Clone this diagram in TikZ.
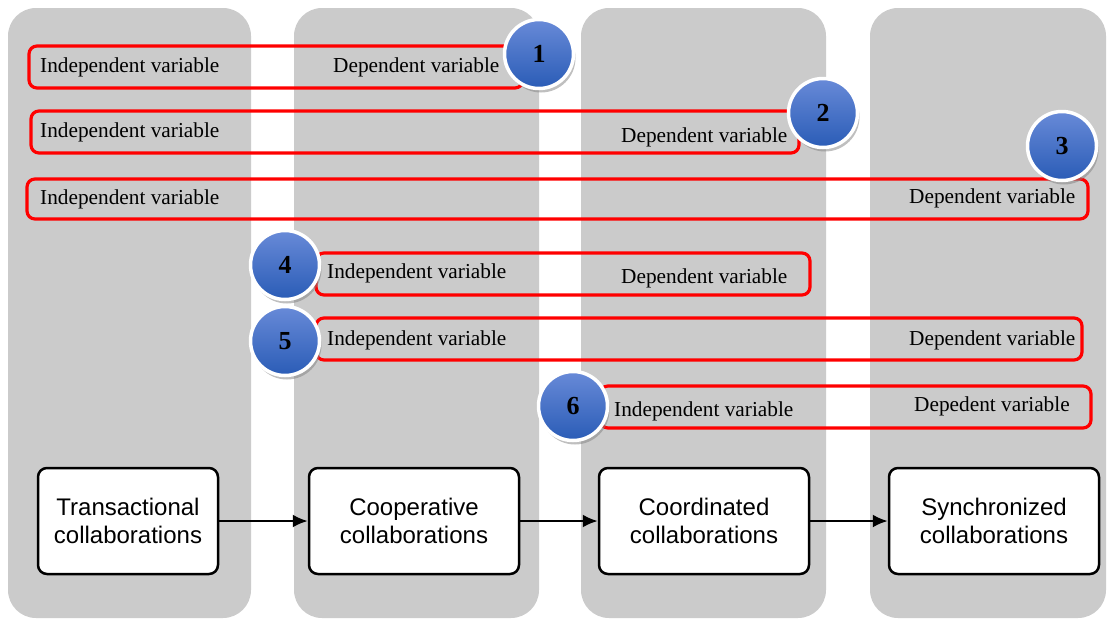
\documentclass[tikz,border=0pt]{standalone}
\usepackage{fontspec}
\setmainfont{Liberation Serif}
\newfontfamily\stagefont{Liberation Sans}
\usetikzlibrary{shadows,arrows.meta}
\definecolor{lanegray}{RGB}{203,203,203}
\definecolor{badgetop}{RGB}{104,138,216}
\definecolor{badgebot}{RGB}{42,92,182}
\begin{document}
\begin{tikzpicture}[x=1pt,y=-1pt,
  lane/.style={fill=lanegray, rounded corners=28pt},
  link/.style={draw=red, line width=3.2pt, rounded corners=8pt, inner sep=0pt},
  var/.style={font=\fontsize{21.3}{25}\selectfont, inner sep=0pt, anchor=west},
  badge/.style={circle, minimum size=69pt, inner sep=0pt, draw=white, line width=3.5pt,
    top color=badgetop, bottom color=badgebot,
    drop shadow={opacity=0.5, shadow xshift=2pt, shadow yshift=-4pt},
    font=\fontsize{26}{26}\selectfont\bfseries},
  stage/.style={draw=black, line width=2.5pt, fill=white, rounded corners=9pt,
    minimum width=210pt, minimum height=106pt, inner sep=0pt, align=center,
    font=\stagefont\fontsize{24}{27.5}\selectfont},
  flow/.style={-{Latex[length=15pt,width=13pt]}, line width=2.3pt}
]
\useasboundingbox (0,0) rectangle (1108,619);

% four stage lanes
\fill[lane] (8,8) rectangle (251,618);
\fill[lane] (294,8) rectangle (539,618);
\fill[lane] (581,8) rectangle (826,618);
\fill[lane] (870,8) rectangle (1106,618);

% relationship bands
\node[link, minimum width=494pt, minimum height=42pt] (r1) at (276,67) {};
\node[link, minimum width=768pt, minimum height=42pt] (r2) at (415,132) {};
\node[link, minimum width=1061pt, minimum height=40pt] (r3) at (557.5,199) {};
\node[link, minimum width=494pt, minimum height=42pt] (r4) at (563,274) {};
\node[link, minimum width=766pt, minimum height=42pt] (r5) at (699,339) {};
\node[link, minimum width=491pt, minimum height=42pt] (r6) at (845.5,407) {};

% band labels
\node[var] (i1) at (40,67) {Independent variable};
\node[var] (d1) at (333,67) {Dependent variable};
\node[var] (i2) at (40,132) {Independent variable};
\node[var] (d2) at (621,137) {Dependent variable};
\node[var] (i3) at (40,199) {Independent variable};
\node[var] (d3) at (909,198) {Dependent variable};
\node[var] (i4) at (327,273) {Independent variable};
\node[var] (d4) at (621,278) {Dependent variable};
\node[var] (i5) at (327,340) {Independent variable};
\node[var] (d5) at (909,340) {Dependent variable};
\node[var] (i6) at (614,411) {Independent variable};
\node[var] (d6) at (914,406) {Depedent variable};

% numbered badges
\node[badge] (c1) at (539,54) {1};
\node[badge] (c2) at (823,113) {2};
\node[badge] (c3) at (1062,146) {3};
\node[badge] (c4) at (285,265) {4};
\node[badge] (c5) at (285,341) {5};
\node[badge] (c6) at (573,406) {6};

% collaboration stages
\node[stage, minimum width=180pt] (s1) at (128,521) {Transactional\\collaborations};
\node[stage] (s2) at (414,521) {Cooperative\\collaborations};
\node[stage] (s3) at (704,521) {Coordinated\\collaborations};
\node[stage] (s4) at (994,521) {Synchronized\\collaborations};

\draw[flow] (s1) -- (s2);
\draw[flow] (s2) -- (s3);
\draw[flow] (s3) -- (s4);
\end{tikzpicture}
\end{document}
